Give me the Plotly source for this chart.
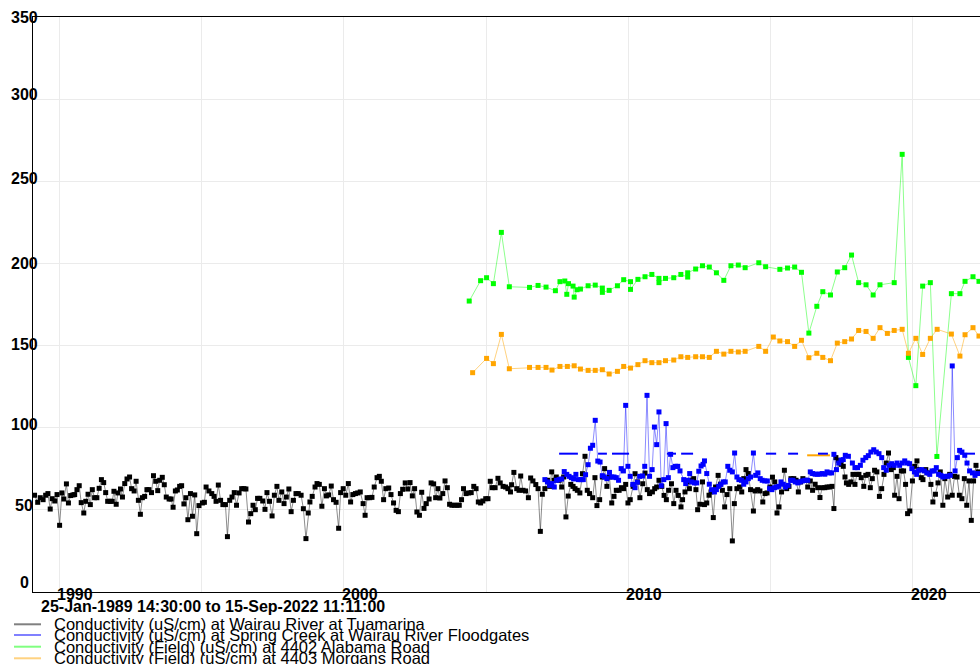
import plotly.graph_objects as go

# ---------------------------------------------------------------------------
# Conductivity records (x = decimal year, y = uS/cm)
# ---------------------------------------------------------------------------
tuam_year = [
    1989.13, 1989.24, 1989.33, 1989.43, 1989.52, 1989.60, 1989.68, 1989.75, 1989.84, 1989.92,
    1990.01, 1990.09, 1990.16, 1990.25, 1990.32, 1990.40, 1990.48, 1990.54, 1990.62, 1990.70, 1990.77, 1990.86, 1990.93,
    1991.01, 1991.09, 1991.16, 1991.24, 1991.32, 1991.40, 1991.48, 1991.56, 1991.63, 1991.70, 1991.79, 1991.86, 1991.92,
    1992.00, 1992.06, 1992.15, 1992.22, 1992.30, 1992.38, 1992.47, 1992.54, 1992.63, 1992.70, 1992.78, 1992.85, 1992.92,
    1993.00, 1993.08, 1993.15, 1993.24, 1993.31, 1993.39, 1993.46, 1993.53, 1993.62, 1993.69, 1993.76, 1993.86, 1993.93,
    1994.00, 1994.08, 1994.15, 1994.23, 1994.30, 1994.38, 1994.45, 1994.52, 1994.61, 1994.68, 1994.76,
    1994.83, 1994.91, 1995.03, 1995.10, 1995.16, 1995.26, 1995.36, 1995.44, 1995.51, 1995.59, 1995.67, 1995.75, 1995.84, 1995.91, 1995.99,
    1996.07, 1996.15, 1996.23, 1996.32, 1996.41, 1996.49, 1996.56, 1996.65, 1996.73, 1996.81, 1996.89, 1996.97,
    1997.05, 1997.15, 1997.23, 1997.30, 1997.39, 1997.48, 1997.56, 1997.65, 1997.72, 1997.82, 1997.90, 1997.98,
    1998.07, 1998.15, 1998.23, 1998.32, 1998.40, 1998.50, 1998.58, 1998.67, 1998.75, 1998.81, 1998.89, 1998.99,
    1999.06, 1999.14, 1999.23, 1999.32, 1999.39, 1999.47, 1999.56, 1999.64, 1999.73, 1999.82, 1999.89, 1999.98,
    2000.07, 2000.16, 2000.24, 2000.32, 2000.41, 2000.49, 2000.58, 2000.68, 2000.75, 2000.82, 2000.91, 2000.99,
    2001.07, 2001.17, 2001.25, 2001.32, 2001.40, 2001.48, 2001.58, 2001.66, 2001.75, 2001.84, 2001.92, 2001.99,
    2002.07, 2002.16, 2002.25, 2002.33, 2002.41, 2002.49, 2002.57, 2002.66, 2002.74, 2002.82, 2002.90, 2003.00,
    2003.07, 2003.16, 2003.23, 2003.31, 2003.38, 2003.48, 2003.56, 2003.64, 2003.72, 2003.80, 2003.89, 2003.98,
    2004.06, 2004.14, 2004.21, 2004.30, 2004.39, 2004.48, 2004.57, 2004.65, 2004.73, 2004.81, 2004.89, 2004.99,
    2005.07, 2005.15, 2005.22, 2005.32, 2005.42, 2005.50, 2005.60, 2005.69, 2005.77, 2005.86, 2005.90, 2005.98,
    2006.08, 2006.16, 2006.22, 2006.30, 2006.39, 2006.49, 2006.57, 2006.65, 2006.75, 2006.83, 2006.91, 2006.98,
    2007.07, 2007.16, 2007.24, 2007.31, 2007.39, 2007.47, 2007.57, 2007.66, 2007.73, 2007.81, 2007.89, 2007.98,
    2008.06, 2008.13, 2008.21, 2008.30, 2008.39, 2008.48, 2008.56, 2008.64, 2008.75, 2008.83, 2008.90, 2008.995,
    2009.09, 2009.17, 2009.25, 2009.34, 2009.42, 2009.50, 2009.58, 2009.68, 2009.76, 2009.84, 2009.91, 2009.99,
    2010.07, 2010.17, 2010.24, 2010.33, 2010.41, 2010.51, 2010.59, 2010.67, 2010.75, 2010.85, 2010.93, 2011.00,
    2011.08, 2011.18, 2011.26, 2011.34, 2011.42, 2011.52, 2011.60, 2011.68, 2011.76, 2011.855, 2011.91, 2011.995,
    2012.08, 2012.15, 2012.21, 2012.30, 2012.38, 2012.44, 2012.52, 2012.61, 2012.68, 2012.76, 2012.84, 2012.91, 2012.99,
    2013.07, 2013.16, 2013.24, 2013.31, 2013.39, 2013.47, 2013.57, 2013.66, 2013.73, 2013.82, 2013.91, 2013.99,
    2014.06, 2014.14, 2014.22, 2014.30, 2014.40, 2014.46, 2014.55, 2014.63, 2014.73, 2014.81, 2014.88, 2014.98,
    2015.07, 2015.15, 2015.23, 2015.30, 2015.39, 2015.49, 2015.57, 2015.65, 2015.72, 2015.82, 2015.90, 2015.98,
    2016.06, 2016.14, 2016.23, 2016.31, 2016.40, 2016.48, 2016.57, 2016.66, 2016.74, 2016.82, 2016.91, 2016.99,
    2017.07, 2017.16, 2017.23, 2017.30, 2017.39, 2017.48, 2017.56, 2017.62, 2017.67, 2017.75, 2017.83, 2017.90, 2017.97,
    2018.04, 2018.11, 2018.19, 2018.28, 2018.35, 2018.43, 2018.51, 2018.58, 2018.66, 2018.74, 2018.83, 2018.91, 2018.99,
    2019.07, 2019.15, 2019.24, 2019.32, 2019.365, 2019.45, 2019.52, 2019.60, 2019.68, 2019.75, 2019.82, 2019.90, 2019.99,
    2020.07, 2020.15, 2020.22, 2020.30, 2020.36, 2020.46, 2020.55, 2020.64, 2020.71, 2020.80, 2020.89, 2020.97,
    2021.06, 2021.13, 2021.23, 2021.30, 2021.39, 2021.47, 2021.56, 2021.64, 2021.73, 2021.815, 2021.90, 2021.98,
    2022.06, 2022.14, 2022.225, 2022.30,
]
tuam_cond = [
    58.9, 54.6, 57.4, 56.2, 58.9, 59.9, 50.5, 56.8, 55.4, 59.3,
    40.6, 60.3, 56.6, 65.8, 54.2, 58.7, 59.1, 59.3, 62.3, 64.7, 54.4, 48.1, 55.2,
    59.5, 53.2, 62.3, 57.4, 57.4, 63.1, 68.4, 66.6, 60.5, 55.2, 55.2, 55.2, 61.3,
    53.4, 60.3, 62.7, 57.8, 66.0, 68.8, 70.0, 62.9, 61.5, 67.4, 55.8, 47.3, 57.4,
    58.2, 62.3, 62.3, 60.5, 70.8, 67.4, 61.7, 68.0, 69.8, 65.3, 57.8, 56.6, 56.6,
    51.6, 61.5, 62.1, 64.3, 64.7, 53.6, 57.4, 44.0, 59.9, 46.1, 59.1,
    35.5, 52.6, 54.2, 54.6, 63.9, 61.5, 59.9, 58.2, 55.2, 65.1, 55.8, 53.2, 53.2, 33.7, 55.8,
    57.8, 60.5, 52.8, 60.3, 62.9, 62.9, 62.7, 42.6, 47.7, 52.8, 50.1, 57.0,
    57.0, 55.4, 50.3, 60.5, 55.2, 46.3, 58.9, 64.3, 55.8, 60.9, 53.8, 57.8,
    62.7, 48.9, 55.8, 59.9, 59.9, 58.9, 50.7, 32.5, 48.1, 54.8, 58.2, 63.9,
    66.0, 65.5, 52.2, 62.9, 58.5, 59.1, 64.5, 56.2, 54.6, 38.8, 60.5, 62.9,
    58.9, 66.0, 54.8, 59.3, 59.9, 60.3, 60.9, 53.8, 46.7, 57.4, 57.4, 57.6,
    63.9, 69.6, 70.4, 67.4, 56.2, 62.9, 63.3, 59.3, 54.2, 49.7, 48.9, 59.9,
    62.5, 66.4, 62.7, 66.6, 58.5, 62.9, 48.7, 46.7, 60.7, 50.9, 53.8, 56.6,
    66.4, 65.8, 57.4, 62.9, 57.2, 59.9, 67.6, 63.5, 53.4, 52.8, 52.8, 52.8,
    52.8, 56.2, 62.9, 59.9, 60.3, 60.5, 64.3, 62.9, 54.8, 54.2, 55.4, 56.8,
    56.8, 67.4, 63.5, 63.5, 69.2, 66.4, 64.3, 63.9, 62.9, 60.9, 65.3, 72.8,
    62.9, 61.9, 70.6, 61.9, 61.5, 57.4, 69.4, 67.6, 65.4, 62.9, 36.9, 59.5,
    62.9, 68.0, 64.3, 73.1, 68.0, 70.0, 68.0, 63.9, 70.0, 45.7, 58.4, 65.5,
    64.3, 62.9, 61.9, 60.3, 72.0, 82.6, 61.9, 59.9, 57.4, 69.6, 52.6, 56.2,
    70.0, 75.1, 64.3, 70.0, 54.2, 58.2, 61.9, 61.9, 63.5, 62.9, 65.5, 54.2,
    56.2, 64.3, 72.0, 67.0, 57.4, 65.9, 72.4, 62.3, 59.9, 60.9, 62.9, 63.9,
    68.0, 64.3, 58.8, 56.2, 61.9, 65.9, 53.8, 61.9, 58.8, 51.8, 56.2, 60.9,
    67.0, 62.9, 68.0, 69.0, 62.3, 50.1, 53.4, 67.0, 53.2, 54.2, 58.9, 60.9, 45.3,
    63.9, 71.0, 65.6, 61.9, 51.8, 59.3, 62.9, 31.1, 53.8, 62.9, 63.9, 60.9,
    69.0, 74.5, 72.1, 62.3, 49.3, 61.5, 62.3, 61.5, 54.8, 59.9, 60.3, 63.9,
    69.9, 67.0, 48.1, 51.8, 60.9, 74.1, 62.9, 64.3, 69.0, 69.0, 68.0, 60.9,
    67.0, 69.0, 68.0, 63.9, 67.6, 61.9, 65.6, 63.5, 57.5, 63.5, 63.5, 63.9,
    63.9, 64.3, 50.8, 81.8, 80.2, 77.7, 76.5, 70.0, 66.4, 65.5, 67.0, 71.6, 65.5,
    71.6, 71.6, 69.6, 64.3, 71.0, 71.6, 63.5, 69.0, 74.1, 73.1, 58.2, 62.9, 71.6,
    78.5, 84.6, 74.5, 75.7, 58.9, 70.4, 56.8, 73.7, 73.7, 65.5, 47.7, 49.3, 67.6,
    76.5, 79.8, 74.5, 69.6, 68.4, 74.5, 72.5, 65.5, 54.8, 59.5, 66.4, 73.1,
    52.8, 69.0, 57.8, 71.6, 58.9, 70.4, 70.0, 58.9, 56.8, 69.0, 52.8, 67.6,
    43.6, 67.6, 77.1, 73.1,
]

spring_year = [
    2007.07, 2007.16, 2007.24, 2007.32, 2007.40, 2007.48, 2007.57, 2007.66, 2007.75, 2007.84, 2007.92,
    2008.00, 2008.08, 2008.16, 2008.25, 2008.34, 2008.42, 2008.50, 2008.59, 2008.67, 2008.75, 2008.84, 2008.93,
    2009.01, 2009.09, 2009.16, 2009.25, 2009.34, 2009.42, 2009.50, 2009.58, 2009.66, 2009.75, 2009.83, 2009.91, 2009.99,
    2010.07, 2010.16, 2010.24, 2010.32, 2010.40, 2010.50, 2010.58, 2010.66, 2010.75, 2010.84, 2010.92,
    2011.00, 2011.08, 2011.16, 2011.25, 2011.33, 2011.41, 2011.49, 2011.57, 2011.66, 2011.74, 2011.82, 2011.95,
    2012.02, 2012.09, 2012.16, 2012.23, 2012.32, 2012.41, 2012.48, 2012.56, 2012.63, 2012.68, 2012.76, 2012.85, 2012.93,
    2013.03, 2013.10, 2013.18, 2013.26, 2013.34, 2013.41, 2013.50, 2013.57, 2013.66, 2013.74, 2013.82, 2013.89, 2013.98,
    2014.06, 2014.14, 2014.22, 2014.30, 2014.40, 2014.48, 2014.56, 2014.64, 2014.71, 2014.80, 2014.89, 2014.97,
    2015.05, 2015.14, 2015.21, 2015.29, 2015.37, 2015.45, 2015.53, 2015.62, 2015.71, 2015.79, 2015.87, 2015.96,
    2016.04, 2016.12, 2016.21, 2016.31, 2016.40, 2016.48, 2016.57, 2016.65, 2016.73, 2016.82, 2016.91, 2016.99,
    2017.07, 2017.15, 2017.23, 2017.32, 2017.40, 2017.48, 2017.56, 2017.63, 2017.74, 2017.88, 2017.97,
    2018.06, 2018.16, 2018.25, 2018.35, 2018.44, 2018.53, 2018.63, 2018.72, 2018.815, 2018.91, 2018.98,
    2019.07, 2019.17, 2019.26, 2019.35, 2019.45, 2019.54, 2019.635, 2019.72, 2019.81, 2019.89, 2019.97,
    2020.06, 2020.14, 2020.22, 2020.315, 2020.41, 2020.50, 2020.60, 2020.68, 2020.76, 2020.83, 2020.91, 2020.99,
    2021.06, 2021.15, 2021.23, 2021.32, 2021.39, 2021.49, 2021.57, 2021.65, 2021.73, 2021.83, 2021.91,
    2022.00, 2022.10, 2022.19, 2022.28,
]
spring_cond = [
    68.4, 67.0, 64.9, 66.0, 63.9, 68.0, 68.4, 68.8, 73.3, 71.6, 70.4,
    69.6, 68.8, 71.6, 68.4, 68.4, 68.4, 71.4, 77.5, 87.5, 89.3, 104.5, 79.7,
    79.1, 70.8, 70.0, 69.0, 72.8, 70.0, 70.0, 69.6, 68.0, 75.1, 73.7, 113.6, 76.5,
    70.4, 65.5, 63.5, 66.8, 70.4, 70.6, 76.5, 119.7, 70.4, 74.5, 100.4,
    89.7, 109.6, 64.7, 68.4, 102.5, 69.6, 83.8, 75.7, 76.5, 76.5, 73.7, 68.4,
    66.0, 68.0, 72.1, 67.0, 66.4, 66.4, 73.5, 76.7, 77.7, 79.8, 72.1, 65.6, 62.3,
    60.9, 62.3, 64.3, 65.6, 67.0, 67.0, 76.5, 74.1, 73.1, 84.6, 70.0, 68.4, 68.0,
    65.6, 67.0, 69.0, 70.0, 84.6, 71.0, 72.5, 69.0, 68.0, 67.6, 67.6, 62.9,
    62.3, 63.5, 63.9, 64.3, 67.0, 65.6, 63.9, 64.9, 68.0, 68.0, 67.0, 66.4,
    67.0, 67.6, 68.0, 68.0, 73.1, 72.1, 71.7, 71.7, 71.7, 72.1, 71.7, 73.1,
    72.5, 72.5, 83.8, 74.5, 78.5, 80.2, 80.6, 83.2, 82.6, 78.5, 75.7,
    75.7, 77.1, 80.2, 81.8, 83.0, 85.2, 86.6, 85.2, 84.2, 81.8, 75.7,
    74.1, 77.1, 78.1, 77.1, 78.5, 77.1, 78.5, 79.8, 78.5, 78.1, 75.1,
    73.1, 71.6, 74.1, 74.5, 73.7, 72.5, 71.6, 73.7, 73.7, 75.7, 71.6, 71.0,
    70.0, 70.4, 70.4, 71.0, 137.6, 73.7, 81.8, 86.2, 85.2, 83.2, 78.5,
    73.7, 72.5, 71.0, 72.1,
]

alabama_year = [
    2004.41, 2004.81, 2005.02, 2005.26, 2005.54, 2005.82, 2006.53, 2006.83, 2007.11, 2007.44,
    2007.60, 2007.77, 2007.84, 2007.90, 2008.06, 2008.10, 2008.20, 2008.32, 2008.59, 2008.84,
    2009.09, 2009.09, 2009.33, 2009.62, 2009.84, 2010.08, 2010.08, 2010.34, 2010.59, 2010.83,
    2011.08, 2011.08, 2011.31, 2011.60, 2011.85, 2012.09, 2012.09, 2012.37, 2012.61, 2012.85,
    2013.10, 2013.36, 2013.61, 2013.87, 2014.11, 2014.59, 2014.83, 2015.33, 2015.60, 2015.85,
    2016.09, 2016.35, 2016.63, 2016.84, 2017.11, 2017.35, 2017.61, 2017.85, 2018.10, 2018.36,
    2018.61, 2018.85, 2019.35, 2019.63, 2019.85, 2020.11, 2020.35, 2020.62, 2020.85, 2021.36,
    2021.66, 2021.84, 2022.12, 2022.33,
]
alabama_cond = [
    177.1, 189.5, 191.3, 187.7, 218.9, 185.8, 185.4, 186.6, 185.6, 183.4,
    188.9, 189.3, 181.2, 187.7, 186.2, 179.5, 184.0, 184.4, 186.4, 186.8,
    185.0, 182.4, 183.6, 186.4, 190.1, 188.9, 184.2, 190.3, 191.9, 193.3,
    190.9, 188.3, 190.9, 191.3, 193.3, 191.7, 194.3, 196.6, 198.6, 197.8,
    194.3, 189.7, 198.6, 199.0, 197.4, 200.4, 198.0, 196.4, 197.2, 197.8,
    194.6, 157.6, 173.9, 182.8, 180.8, 194.8, 197.4, 205.1, 188.3, 187.0,
    180.8, 187.0, 188.3, 266.4, 142.8, 125.6, 186.2, 188.3, 82.5, 181.6,
    181.6, 189.1, 191.9, 189.1,
]

morgans_year = [
    2004.53, 2005.02, 2005.26, 2005.54, 2005.82, 2006.53, 2006.83, 2007.11, 2007.32, 2007.60,
    2007.86, 2008.10, 2008.32, 2008.59, 2008.84, 2009.09, 2009.33, 2009.62, 2009.84, 2010.08,
    2010.34, 2010.59, 2010.83, 2011.08, 2011.31, 2011.60, 2011.85, 2012.09, 2012.37, 2012.61,
    2012.85, 2013.10, 2013.36, 2013.61, 2013.87, 2014.11, 2014.59, 2014.83, 2015.10, 2015.33,
    2015.60, 2015.85, 2016.09, 2016.35, 2016.63, 2016.84, 2017.11, 2017.35, 2017.61, 2017.85,
    2018.10, 2018.36, 2018.61, 2018.85, 2019.11, 2019.35, 2019.63, 2019.85, 2020.11, 2020.35,
    2020.62, 2020.86, 2021.36, 2021.66, 2021.84, 2022.12, 2022.33,
]
morgans_cond = [
    133.5, 142.2, 139.0, 156.8, 135.9, 136.7, 136.7, 136.7, 135.1, 137.3,
    137.3, 137.7, 135.7, 134.9, 134.9, 135.3, 132.7, 134.3, 137.3, 136.3,
    138.4, 140.8, 139.6, 139.6, 140.8, 141.2, 143.2, 142.8, 143.2, 143.2,
    142.8, 146.5, 144.8, 146.5, 146.1, 146.5, 149.5, 146.5, 155.2, 152.8,
    152.4, 149.5, 153.2, 142.6, 145.3, 142.8, 140.8, 151.5, 152.4, 154.0,
    159.2, 158.6, 154.4, 160.9, 157.4, 159.2, 159.9, 145.3, 154.4, 144.6,
    154.4, 159.9, 157.0, 143.6, 156.6, 160.9, 155.8,
]

# Dashed reference level segments (start year, end year)
spring_ref_level = 84.2
spring_ref_spans = [
    (2007.57, 2008.23), (2008.94, 2009.25), (2009.43, 2010.03), (2011.36, 2011.68),
    (2011.86, 2012.28), (2014.84, 2015.20), (2015.62, 2015.97), (2016.67, 2017.02),
    (2021.66, 2022.19),
]
morgans_ref_level = 83.2
morgans_ref_spans = [(2016.29, 2017.09)]

series_names = [
    "Conductivity (uS/cm) at Wairau River at Tuamarina",
    "Conductivity (uS/cm) at Spring Creek at Wairau River Floodgates",
    "Conductivity (Field) (uS/cm) at 4402 Alabama Road",
    "Conductivity (Field) (uS/cm) at 4403 Morgans Road",
]
period_text = "25-Jan-1989 14:30:00 to 15-Sep-2022 11:11:00"

y_ticks = [0, 50, 100, 150, 200, 250, 300, 350]
x_label_years = [1990, 2000, 2010, 2020]
x_grid_years = [1990, 1995, 2000, 2005, 2010, 2015, 2020]

# ---------------------------------------------------------------------------
# Layout geometry (pixels)
# ---------------------------------------------------------------------------
W, H = 980, 664
ML, MR, MT, MB = 33, 0, 17, 72
PW, PH = W - ML - MR, H - MT - MB
X_RANGE = [1989.075, 2022.366]
Y_RANGE = [0, 350]

FONT = "Liberation Sans, Arial, Helvetica, sans-serif"

def px_x(px):
    return (px - ML) / PW

def px_y(py):
    return (H - MB - py) / PH

marker_colors = ["#000000", "#0000ff", "#00ff00", "#ffa500"]
line_colors = ["rgba(0,0,0,0.45)", "rgba(0,0,255,0.45)", "rgba(0,255,0,0.45)", "rgba(255,165,0,0.5)"]
legend_colors = ["#808080", "#8080ff", "#80ff80", "#ffd280"]

fig = go.Figure()

# reference level dashes sit underneath the measurement series
def span_xy(spans, level):
    xs, ys = [], []
    for a, b in spans:
        xs += [a, b, None]
        ys += [level, level, None]
    return xs, ys

mx, my = span_xy(morgans_ref_spans, morgans_ref_level)
fig.add_trace(go.Scatter(x=mx, y=my, mode="lines", line=dict(color="#ffa500", width=2),
                         hoverinfo="skip", showlegend=False))
sx, sy = span_xy(spring_ref_spans, spring_ref_level)
fig.add_trace(go.Scatter(x=sx, y=sy, mode="lines", line=dict(color="#0000ff", width=2),
                         hoverinfo="skip", showlegend=False))

data = [
    (tuam_year, tuam_cond),
    (spring_year, spring_cond),
    (alabama_year, alabama_cond),
    (morgans_year, morgans_cond),
]
for i, (xs, ys) in enumerate(data):
    fig.add_trace(go.Scatter(
        x=xs, y=ys, mode="lines+markers", name=series_names[i],
        line=dict(color=line_colors[i], width=1),
        marker=dict(symbol="square", size=5, color=marker_colors[i], line=dict(width=0)),
        showlegend=False,
    ))

annotations = []
shapes = []

# y tick labels (centered left of the axis)
ylabel_lift = [9.7, 4, 3, 1, 0, 3, 5, 0]
for v, lift in zip(y_ticks, ylabel_lift):
    annotations.append(dict(
        text=f"<b>{v}</b>", x=px_x(24), xref="paper", xanchor="center",
        y=v, yref="y", yanchor="middle", yshift=lift, showarrow=False,
        font=dict(family=FONT, size=16, color="#000000"),
    ))

# x tick labels, starting at the year line
for yr in x_label_years:
    annotations.append(dict(
        text=f"<b>{yr}</b>", x=yr, xref="x", xanchor="left", xshift=-4,
        y=px_y(594.5), yref="paper", yanchor="middle", showarrow=False,
        font=dict(family=FONT, size=16, color="#000000"),
    ))

# period subtitle
annotations.append(dict(
    text=f"<b>{period_text}</b>", x=px_x(39), xref="paper", xanchor="left",
    y=px_y(606), yref="paper", yanchor="middle", showarrow=False,
    font=dict(family=FONT, size=16, color="#000000"),
))

# legend rows
legend_rows = [624.3, 635.0, 646.7, 658.3]
for i, row in enumerate(legend_rows):
    shapes.append(dict(type="line", xref="paper", yref="paper",
                       x0=px_x(14), x1=px_x(41), y0=px_y(row), y1=px_y(row),
                       line=dict(color=legend_colors[i], width=2)))
    annotations.append(dict(
        text=series_names[i], x=px_x(52), xref="paper", xanchor="left",
        y=px_y(row), yref="paper", yanchor="middle", showarrow=False,
        font=dict(family=FONT, size=16.5, color="#000000"),
    ))

fig.update_layout(
    width=W, height=H,
    margin=dict(l=ML, r=MR, t=MT, b=MB, pad=0),
    paper_bgcolor="white", plot_bgcolor="white",
    font=dict(family=FONT, color="#000000"),
    showlegend=False,
    annotations=annotations,
    shapes=shapes,
    xaxis=dict(
        range=X_RANGE, tickmode="array", tickvals=x_grid_years, showticklabels=False,
        ticks="", showgrid=True, gridcolor="#ebebeb", gridwidth=1, zeroline=False,
        showline=True, linecolor="#000000", linewidth=1, mirror=True,
    ),
    yaxis=dict(
        range=Y_RANGE, tickmode="array", tickvals=y_ticks, showticklabels=False,
        ticks="", showgrid=True, gridcolor="#ebebeb", gridwidth=1, zeroline=False,
        showline=True, linecolor="#000000", linewidth=1, mirror=False,
    ),
)

fig.write_html("out.html")
